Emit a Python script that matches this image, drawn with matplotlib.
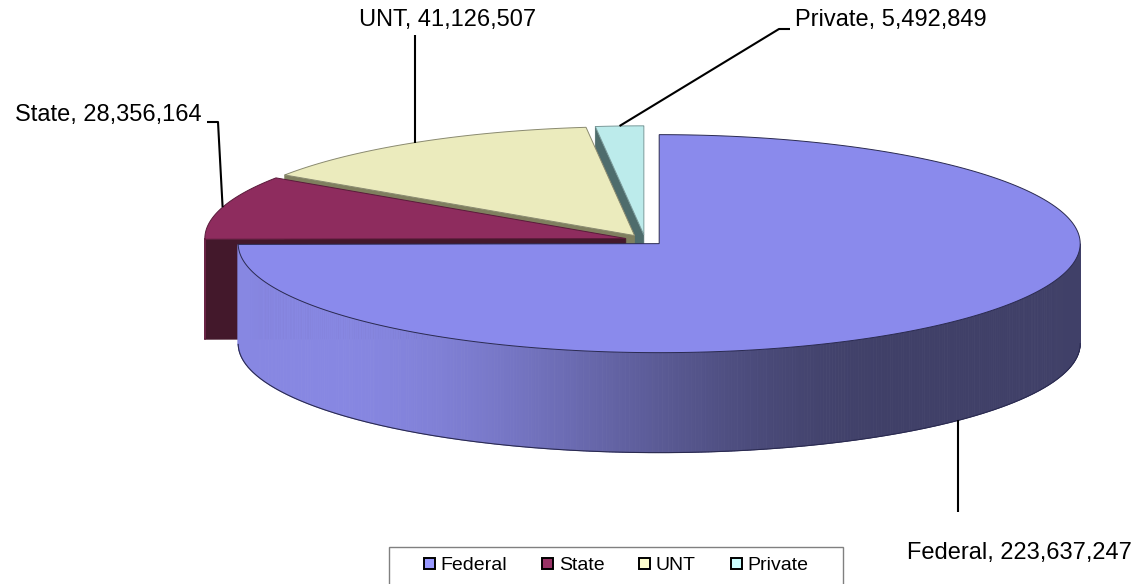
import numpy as np
import matplotlib.pyplot as plt
from matplotlib.patches import Polygon, Patch, Rectangle

plt.rcParams['font.family'] = ['Liberation Sans', 'DejaVu Sans']

labels = ['Federal', 'State', 'UNT', 'Private']
values = [223637247, 28356164, 41126507, 5492849]

top_colors = ['#8A8AEC', '#8E2C5E', '#EBEBBD', '#BCEBEB']
face_colors = ['#404068', '#43182B', '#7F7F5F', '#4E6C6C']
wall_light = ['#8787E2', '#6A2446', '#BDBD97', '#97BDBD']
edge_colors = ['#2A2A50', '#5A1A3A', '#8A8A70', '#7A9A9A']
legend_colors = ['#9999FF', '#993366', '#FFFFCC', '#CCFFFF']

# label text anchors (pixels) and alignment
label_pos = [(907, 553, 'left'), (202, 115, 'right'), (448, 20, 'center'), (795, 20, 'left')]

# pie geometry in pixels
CX, CY = 645, 240
RX, RY = 421, 109
DEPTH = 100
EXPLODE = 20


def rim(cx, cy, th):
    return cx + RX * np.cos(th), cy - RY * np.sin(th)


def mix(c1, c2, s):
    a = np.array(plt.matplotlib.colors.to_rgb(c1))
    b = np.array(plt.matplotlib.colors.to_rgb(c2))
    return tuple(a + (b - a) * s)


fig = plt.figure(figsize=(11.42, 5.84), dpi=100)
ax = fig.add_axes([0, 0, 1, 1])
ax.set_xlim(0, 1142)
ax.set_ylim(584, 0)
ax.axis('off')

total = float(sum(values))
fracs = np.array(values) / total
starts = 90 - 360 * np.concatenate([[0], np.cumsum(fracs)[:-1]])
ends = starts - 360 * fracs

geo = []
for i in range(len(values)):
    t1 = np.radians(ends[i])
    t2 = np.radians(starts[i])
    mid = (t1 + t2) / 2
    cx = CX + EXPLODE * np.cos(mid)
    cy = CY - EXPLODE * RY / RX * np.sin(mid)
    geo.append((t1, t2, mid, cx, cy))

# back to front
order = sorted(range(len(values)), key=lambda k: geo[k][4])

for i in order:
    t1, t2, mid, cx, cy = geo[i]

    # radial cut faces
    for th, vis in ((t1, np.cos(t1) > 1e-6), (t2, np.cos(t2) < -1e-6)):
        if not vis:
            continue
        x, y = rim(cx, cy, th)
        poly = [(cx, cy), (x, y), (x, y + DEPTH), (cx, cy + DEPTH)]
        ax.add_patch(Polygon(poly, closed=True, facecolor=face_colors[i],
                             edgecolor=face_colors[i], lw=0.5))

    # outer curved wall (front half only)
    th = np.linspace(t1, t2, 600)
    for a, b in zip(th[:-1], th[1:]):
        if np.sin((a + b) / 2) >= 0:
            continue
        xa, ya = rim(cx, cy, a)
        xb, yb = rim(cx, cy, b)
        t = ((xa + xb) / 2 - (CX - RX)) / (2 * RX)
        s = np.clip((t - 0.12) / 0.68, 0, 1)
        s = s * s * (3 - 2 * s)
        c = mix(wall_light[i], face_colors[i], s)
        ax.add_patch(Polygon([(xa, ya), (xb, yb), (xb, yb + DEPTH), (xa, ya + DEPTH)],
                             closed=True, facecolor=c, edgecolor=c, lw=0.6))
    front = th[np.sin(th) < 0]
    if len(front) > 1:
        bx, by = rim(cx, cy, front)
        ax.plot(bx, by + DEPTH, color=edge_colors[i], lw=0.8)

    # top face
    ax_, ay_ = rim(cx, cy, th)
    poly = [(cx, cy)] + list(zip(ax_, ay_))
    ax.add_patch(Polygon(poly, closed=True, facecolor=top_colors[i],
                         edgecolor=edge_colors[i], lw=0.7))

# data labels with leader lines
for i in range(len(values)):
    t1, t2, mid, cx, cy = geo[i]
    tx, ty, ha = label_pos[i]
    text = '%s, %s' % (labels[i], format(values[i], ','))
    ax.text(tx, ty, text, ha=ha, va='center', fontsize=17, color='black')
    px, py = rim(cx, cy, mid)
    if np.sin(mid) < 0:
        py += DEPTH
    if i == 0:
        xs, ys = [px, px], [py, ty - 41]
    elif i == 1:
        xs, ys = [tx + 5, tx + 16, px], [ty + 7, ty + 7, py]
    elif i == 2:
        xs, ys = [px, px], [ty + 15, py]
    else:
        xs, ys = [tx - 5, tx - 16, px], [ty + 9, ty + 9, py]
    ax.plot(xs, ys, color='black', lw=1.5, solid_capstyle='butt')

# legend box (runs off the bottom edge as in the original)
ax.add_patch(Rectangle((389, 547), 454, 60, facecolor='white', edgecolor='#808080', lw=1.0))
handles = [Patch(facecolor=c, edgecolor='black', lw=1.4) for c in legend_colors]
leg = ax.legend(handles, labels, loc='center left', bbox_to_anchor=(424 / 1142, 18 / 584),
                ncol=4, fontsize=14, frameon=False, borderaxespad=0, borderpad=0,
                handlelength=0.55, handleheight=0.55, handletextpad=0.3,
                columnspacing=1.8)

fig.savefig('out.png', dpi=100)
